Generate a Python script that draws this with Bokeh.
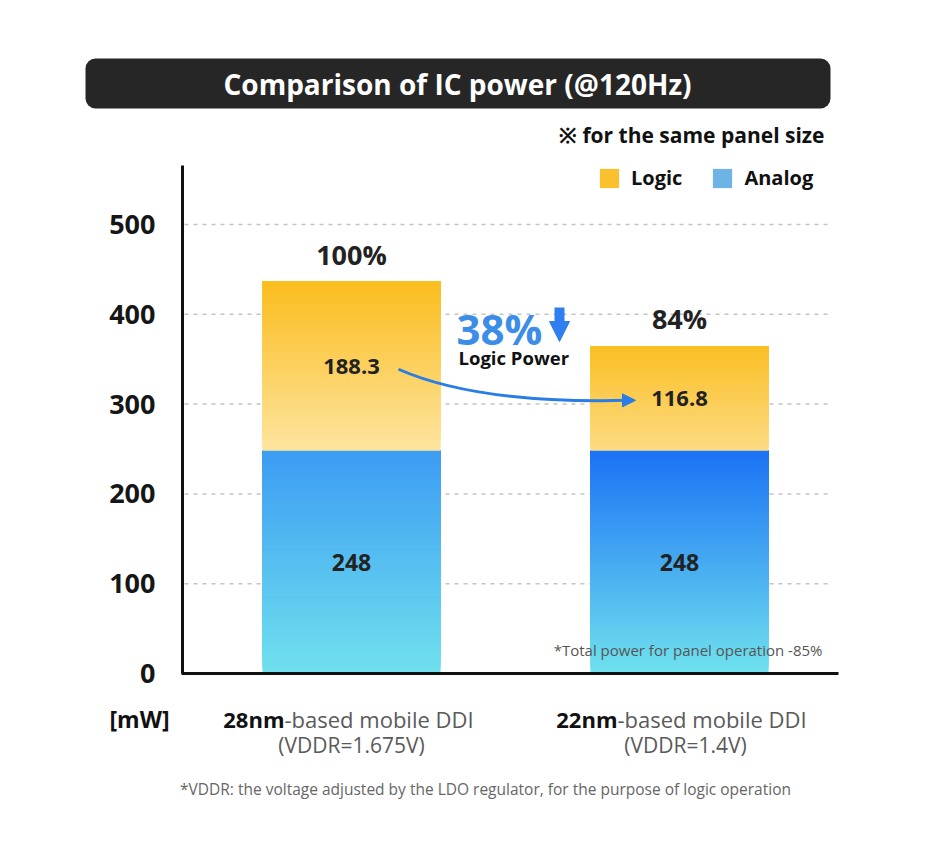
from bokeh.plotting import figure
from bokeh.models import (Range1d, FixedTicker, Label, BoxAnnotation, Legend, LegendItem,
                          Arrow, NormalHead, LinearAxis)
from bokeh.core.properties import value
from bokeh.embed import file_html
from bokeh.resources import INLINE

# ---------------- data ----------------
chip_bold = ["28nm", "22nm"]
chip_rest = ["-based mobile DDI", "-based mobile DDI"]
chip_vddr = ["(VDDR=1.675V)", "(VDDR=1.4V)"]
analog = [248, 248]
logic = [188.3, 116.8]
total_pct = ["100%", "84%"]
y_ticks = [0, 100, 200, 300, 400, 500]
logic_reduction = "38%"

positions = [i + 1 for i in range(len(analog))]

# ---------------- layout helpers ----------------
FONT = "Open Sans"
W, H = 920, 830
PXX = 1 / 328.0          # x data units per px
PYU = 500 / 449.0        # y data units per px
XL = 1 - 351 * PXX
XR = XL + W * PXX
YT = 673 * PYU
YB = YT - H * PYU


def X(px):  # picture px -> data x
    return XL + px * PXX


def Y(py):  # picture px -> data y
    return (673 - py) * PYU


analog_top = ["#3c9cf3", "#1b72f5"]
analog_bot = ["#70e1ee", "#70e2ee"]
logic_top = ["#fbbd1e", "#fbbf24"]
logic_bot = ["#fde49f", "#fddb84"]


def hex2rgb(c):
    c = c.lstrip("#")
    return tuple(int(c[i:i + 2], 16) for i in (0, 2, 4))


def lerp(c1, c2, t):
    a, b = hex2rgb(c1), hex2rgb(c2)
    return "#%02x%02x%02x" % tuple(int(round(a[k] + (b[k] - a[k]) * t)) for k in range(3))


p = figure(width=W, height=H, output_backend="svg", toolbar_location=None,
           x_range=Range1d(XL, XR), y_range=Range1d(YB, YT),
           x_axis_location=None, y_axis_location=None,
           min_border=0)
p.outline_line_color = None
p.background_fill_color = "white"
p.border_fill_color = "white"
p.xgrid.visible = False
p.ygrid.visible = False

# gridlines (dashed) at tick values
gy = y_ticks[1:]
p.segment(x0=[X(184)] * len(gy), x1=[X(832)] * len(gy), y0=gy, y1=gy,
          line_color="#c4c4c4", line_width=1.5, line_dash="4 5")

# axes placed inside the canvas
yax = LinearAxis(fixed_location=X(182), bounds=(0, Y(165)), ticker=FixedTicker(ticks=y_ticks),
                 axis_line_width=3, axis_line_color="#111111",
                 major_tick_line_color=None, minor_tick_line_color=None,
                 major_label_text_font=FONT, major_label_text_font_size="27px",
                 major_label_text_font_style="bold", major_label_text_color="#161616",
                 major_label_standoff=21)
p.add_layout(yax, "left")
xax = LinearAxis(fixed_location=0, bounds=(X(181), X(838)), ticker=FixedTicker(ticks=[]),
                 axis_line_width=3, axis_line_color="#111111",
                 major_tick_line_color=None, minor_tick_line_color=None)
p.add_layout(xax, "below")

# gradient stacked bars
BAR_W = 178 * PXX
xs, bots, tops, cols = [], [], [], []
N = 60
for i, x in enumerate(positions):
    segs = [(0, analog[i], analog_bot[i], analog_top[i]),
            (analog[i], analog[i] + logic[i], logic_bot[i], logic_top[i])]
    for b, t, cb, ct in segs:
        for k in range(N):
            f = k / N
            xs.append(x)
            bots.append(b + (t - b) * f)
            tops.append(t)
            cols.append(lerp(cb, ct, (k + 0.5) / N))
p.vbar(x=xs, bottom=bots, top=tops, width=BAR_W, fill_color=cols, line_color=None)

# value labels
TXT = dict(text_font=value(FONT), text_font_style="bold", text_align="center",
           text_baseline="middle", text_color="#222222")
p.text(x=positions, y=[a / 2 for a in analog], text=[str(a) for a in analog],
       text_font_size="23px", **TXT)
p.text(x=positions, y=[a + l / 2 for a, l in zip(analog, logic)],
       text=["%.1f" % l for l in logic], text_font_size="22px", **TXT)
p.text(x=positions, y=[a + l + 27 * PYU for a, l in zip(analog, logic)],
       text=total_pct, text_font_size="27px", **TXT)

# legend
r_logic = p.vbar(x=[positions[0]], bottom=[0], top=[0], width=0.5,
                 fill_color="#fbc02d", line_color=None)
r_analog = p.vbar(x=[positions[0]], bottom=[0], top=[0], width=0.5,
                  fill_color="#6db3e6", line_color=None)
legend = Legend(items=[LegendItem(label="Logic", renderers=[r_logic]),
                       LegendItem(label="Analog", renderers=[r_analog])],
                orientation="horizontal", location=(597, 639),
                glyph_width=24, glyph_height=24, label_standoff=10, spacing=28,
                padding=0, margin=0, background_fill_alpha=0, border_line_alpha=0,
                label_text_font=FONT, label_text_font_size="20px",
                label_text_color="#111111", label_text_font_style="bold")
p.add_layout(legend)

# title bar
p.add_layout(BoxAnnotation(left=X(85), right=X(830), top=Y(58), bottom=Y(108),
                           fill_color="#262626", fill_alpha=1, line_color=None,
                           border_radius=10))
p.add_layout(Label(x=X(457), y=Y(83), text="Comparison of IC power (@120Hz)",
                   text_align="center", text_baseline="middle", text_color="white",
                   text_font=FONT, text_font_size="28px", text_font_style="bold"))
p.add_layout(Label(x=X(824), y=Y(134), text="\u203b for the same panel size",
                   text_align="right", text_baseline="middle", text_color="#111111",
                   text_font=FONT, text_font_size="21px", text_font_style="bold"))

# category labels below axis
for i, x in enumerate(positions):
    split = x - (67 - 5 * i) * PXX
    p.add_layout(Label(x=split, y=Y(718), text=chip_bold[i], text_align="right",
                       text_baseline="middle", text_color="#111111", text_font=FONT,
                       text_font_size="22px", text_font_style="bold"))
    p.add_layout(Label(x=split, y=Y(718), text=chip_rest[i], text_align="left",
                       text_baseline="middle", text_color="#5a5a5a", text_font=FONT,
                       text_font_size="22px"))
    p.add_layout(Label(x=x + 6 * i * PXX, y=Y(744), text=chip_vddr[i], text_align="center",
                       text_baseline="middle", text_color="#5a5a5a", text_font=FONT,
                       text_font_size="21px"))

p.add_layout(Label(x=X(139), y=Y(718), text="[mW]", text_align="center",
                   text_baseline="middle", text_color="#111111", text_font=FONT,
                   text_font_size="23px", text_font_style="bold"))

p.add_layout(Label(x=X(822), y=Y(649), text="*Total power for panel operation -85%",
                   text_align="right", text_baseline="middle", text_color="#555555",
                   text_font=FONT, text_font_size="15px"))
p.add_layout(Label(x=X(485), y=Y(788),
                   text="*VDDR: the voltage adjusted by the LDO regulator, for the purpose of logic operation",
                   text_align="center", text_baseline="middle", text_color="#666666",
                   text_font=FONT, text_font_size="15.5px"))

# 38% logic-power callout
p.add_layout(Label(x=X(456), y=Y(328), text=logic_reduction, text_align="left",
                   text_baseline="middle", text_color="#3b8de8", text_font=FONT,
                   text_font_size="42px", text_font_style="bold"))
p.add_layout(Arrow(x_start=X(559), y_start=Y(307), x_end=X(559), y_end=Y(341),
                   line_color="#2f7ff0", line_width=10,
                   end=NormalHead(size=20, fill_color="#2f7ff0", line_color="#2f7ff0")))
p.add_layout(Label(x=X(458), y=Y(357), text="Logic Power", text_align="left",
                   text_baseline="middle", text_color="#111111", text_font=FONT,
                   text_font_size="18.5px", text_font_style="bold"))

# curved arrow from logic label of bar 1 to bar 2
y_a = analog[0] + logic[0] / 2 - 3 * PYU
y_b = analog[1] + logic[1] / 2 - 2 * PYU
x_a = positions[0] + 47 * PXX
x_b = positions[1] - 50 * PXX
p.quadratic(x0=[x_a], y0=[y_a], x1=[x_b], y1=[y_b],
            cx=[x_a + 80 * PXX], cy=[y_b - 4 * PYU],
            line_color="#2a7de6", line_width=3)
p.add_layout(Arrow(x_start=x_b - 4 * PXX, y_start=y_b, x_end=x_b + 6 * PXX, y_end=y_b,
                   line_color="#2a7de6", line_width=3,
                   end=NormalHead(size=13, fill_color="#2a7de6", line_color="#2a7de6")))

open("out.html", "w").write(file_html(p, INLINE))
